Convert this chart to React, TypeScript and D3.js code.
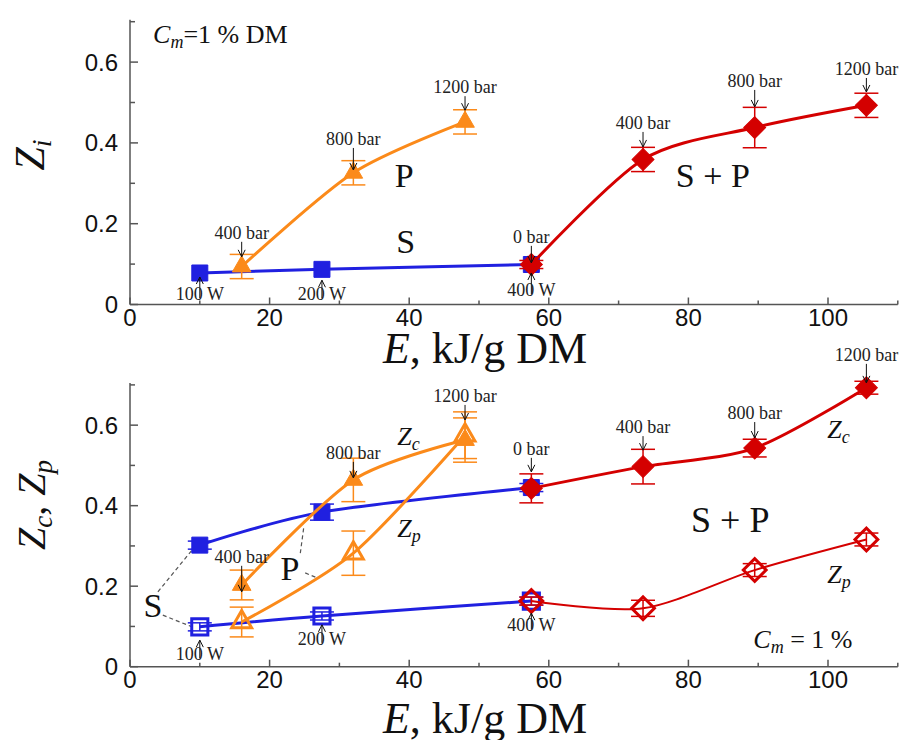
import React from "react";
import * as d3 from "d3";

// ---------- data ----------
const E_S = [10, 27.5, 57.5];
const E_P = [16, 32, 48];
const E_SP = [57.5, 73.5, 89.5, 105.5];

// top panel (Z_i)
const ZiS = [0.078, 0.087, 0.099];
const ZiSErr = [0, 0, 0];
const ZiP = [0.094, 0.326, 0.452];
const ZiPErr = [0.03, 0.03, 0.03];
const ZiSP = [0.099, 0.359, 0.438, 0.493];
const ZiSPErr = [0.01, 0.03, 0.05, 0.03];

// bottom panel (Z_c, Z_p)
const ZcS = [0.302, 0.384, 0.445];
const ZcSErr = [0.01, 0.02, 0.01];
const ZpS = [0.099, 0.126, 0.163];
const ZpSErr = [0.01, 0.01, 0.01];
const ZcP = [0.203, 0.464, 0.563];
const ZcPErr = [0.037, 0.054, 0.055];
const ZpP = [0.111, 0.282, 0.575];
const ZpPErr = [0.037, 0.055, 0.058];
const ZcSP = [0.443, 0.497, 0.543, 0.693];
const ZcSPErr = [0.036, 0.043, 0.022, 0.016];
const ZpSP = [0.163, 0.145, 0.24, 0.316];
const ZpSPErr = [0.01, 0.02, 0.016, 0.016];

// ticks
const xTickLabels = [0, 20, 40, 60, 80, 100];
const xMinorTicks = [10, 30, 50, 70, 90, 110];
const yTickLabels = [0, 0.2, 0.4, 0.6];
const yMinorTicks = [0.1, 0.3, 0.5, 0.7];

// arrow annotations: text, x, value at arrow tip, direction, arrow length
const topArrows = [
  { t: "100 W", x: 10, at: 0.068, dir: "up", len: 21 },
  { t: "200 W", x: 27.5, at: 0.06, dir: "up", len: 18 },
  { t: "400 W", x: 57.5, at: 0.078, dir: "up", len: 21 },
  { t: "400 bar", x: 16, at: 0.118, dir: "down", len: 15 },
  { t: "800 bar", x: 32, at: 0.333, dir: "down", len: 22 },
  { t: "1200 bar", x: 48, at: 0.481, dir: "down", len: 14 },
  { t: "0 bar", x: 57.5, at: 0.103, dir: "down", len: 17 },
  { t: "400 bar", x: 73.5, at: 0.39, dir: "down", len: 15 },
  { t: "800 bar", x: 89.5, at: 0.489, dir: "down", len: 17 },
  { t: "1200 bar", x: 105.5, at: 0.526, dir: "down", len: 14 },
];
const botArrows = [
  { t: "100 W", x: 10, at: 0.066, dir: "up", len: 18 },
  { t: "200 W", x: 27.5, at: 0.104, dir: "up", len: 18 },
  { t: "400 W", x: 57.5, at: 0.133, dir: "up", len: 16 },
  { t: "400 bar", x: 16, at: 0.186, dir: "down", len: 26 },
  { t: "800 bar", x: 32, at: 0.469, dir: "down", len: 16 },
  { t: "1200 bar", x: 48, at: 0.613, dir: "down", len: 15 },
  { t: "0 bar", x: 57.5, at: 0.484, dir: "down", len: 14 },
  { t: "400 bar", x: 73.5, at: 0.538, dir: "down", len: 14 },
  { t: "800 bar", x: 89.5, at: 0.568, dir: "down", len: 16 },
  { t: "1200 bar", x: 105.5, at: 0.705, dir: "down", len: 19 },
];

// dashed pointer lines in the bottom panel (data coords)
const dashLines = [
  [[4.0, 0.186], [8.9, 0.29]],
  [[4.7, 0.128], [8.9, 0.099]],
  [[24.4, 0.282], [24.9, 0.347]],
  [[25.1, 0.233], [26.9, 0.22]],
];

const BLUE = "#2020e0";
const ORANGE = "#fb8a1a";
const RED = "#d40000";
const SERIF = "'Liberation Serif', 'Times New Roman', serif";
const SANS = "'Liberation Sans', Arial, sans-serif";

const xS = d3.scaleLinear().domain([0, 110]).range([130, 897.8]);
const yTop = d3.scaleLinear().domain([0, 0.7]).range([304.5, 21.7]);
const yBot = d3.scaleLinear().domain([0, 0.7]).range([666.7, 384.9]);

const line = (y: any) =>
  d3
    .line<[number, number]>()
    .x((d) => xS(d[0]))
    .y((d) => y(d[1]))
    .curve(d3.curveCardinal.tension(0.15));

const sym = (type: any, size: number) => d3.symbol().type(type).size(size)() as string;

function Axes({ y }: { y: any }) {
  const y0 = y(0);
  return (
    <g>
      <line x1={xS(0)} x2={xS(110)} y1={y0} y2={y0} stroke="#555" strokeWidth={1.5} />
      <line x1={xS(0)} x2={xS(0)} y1={y0} y2={y(0.7) - 2} stroke="#555" strokeWidth={1.5} />
      {xTickLabels.map((v) => (
        <g key={"xt" + v}>
          <line x1={xS(v)} x2={xS(v)} y1={y0} y2={y0 - 7} stroke="#555" strokeWidth={1.5} />
          <text x={xS(v)} y={y0 + 21} textAnchor="middle" fontFamily={SANS} fontSize={24} fill="#111">
            {v}
          </text>
        </g>
      ))}
      {xMinorTicks.map((v) => (
        <line key={"xm" + v} x1={xS(v)} x2={xS(v)} y1={y0} y2={y0 - 4} stroke="#555" strokeWidth={1.5} />
      ))}
      {yTickLabels.map((v) => (
        <g key={"yt" + v}>
          <line x1={xS(0)} x2={xS(0) + 8} y1={y(v)} y2={y(v)} stroke="#555" strokeWidth={1.5} />
          <text x={118} y={y(v) + 8.5} textAnchor="end" fontFamily={SANS} fontSize={24} fill="#111">
            {v === 0 ? "0" : v.toFixed(1)}
          </text>
        </g>
      ))}
      {yMinorTicks.map((v) => (
        <line key={"ym" + v} x1={xS(0)} x2={xS(0) + 5} y1={y(v)} y2={y(v)} stroke="#555" strokeWidth={1.5} />
      ))}
    </g>
  );
}

function ErrBars({ xs, vs, es, y, color }: any) {
  return (
    <g stroke={color} strokeWidth={1.5}>
      {xs.map((x: number, i: number) =>
        es[i] > 0 ? (
          <g key={i}>
            <line x1={xS(x)} x2={xS(x)} y1={y(vs[i] - es[i])} y2={y(vs[i] + es[i])} />
            <line x1={xS(x) - 12} x2={xS(x) + 12} y1={y(vs[i] - es[i])} y2={y(vs[i] - es[i])} />
            <line x1={xS(x) - 12} x2={xS(x) + 12} y1={y(vs[i] + es[i])} y2={y(vs[i] + es[i])} />
          </g>
        ) : null
      )}
    </g>
  );
}

function Markers({ xs, vs, y, shape, color, open, size, rot }: any) {
  const d = sym(shape, size);
  return (
    <g>
      {xs.map((x: number, i: number) => (
        <path
          key={i}
          d={d}
          transform={`translate(${xS(x)},${y(vs[i])}) rotate(${rot || 0})`}
          fill={open ? "none" : color}
          stroke={color}
          strokeWidth={open ? 3 : 1}
        />
      ))}
    </g>
  );
}

function Series({ xs, vs, es, y, color, width, shape, size, open, rot }: any) {
  const pts = xs.map((x: number, i: number) => [x, vs[i]]) as [number, number][];
  return (
    <g>
      <path d={line(y)(pts) as string} fill="none" stroke={color} strokeWidth={width} />
      <ErrBars xs={xs} vs={vs} es={es} y={y} color={color} />
      <Markers xs={xs} vs={vs} y={y} shape={shape} color={color} open={open} size={size} rot={rot} />
    </g>
  );
}

function Arrows({ items, y }: any) {
  return (
    <g>
      {items.map((a: any, i: number) => {
        const x = xS(a.x);
        const tip = y(a.at);
        if (a.dir === "down") {
          const start = tip - a.len;
          return (
            <g key={i}>
              <line x1={x} x2={x} y1={start} y2={tip} stroke="#111" strokeWidth={1} />
              <path d={`M${x - 3.5},${tip - 7} L${x},${tip} L${x + 3.5},${tip - 7}`} fill="none" stroke="#111" strokeWidth={1} />
              <text x={x} y={start - 3} textAnchor="middle" fontFamily={SERIF} fontSize={18} fill="#222">
                {a.t}
              </text>
            </g>
          );
        }
        const end = tip + a.len;
        return (
          <g key={i}>
            <line x1={x} x2={x} y1={tip} y2={end} stroke="#111" strokeWidth={1} />
            <path d={`M${x - 3.5},${tip + 7} L${x},${tip} L${x + 3.5},${tip + 7}`} fill="none" stroke="#111" strokeWidth={1} />
            <text x={x} y={end + 2} textAnchor="middle" fontFamily={SERIF} fontSize={18} fill="#222">
              {a.t}
            </text>
          </g>
        );
      })}
    </g>
  );
}

function XTitle({ y }: { y: number }) {
  return (
    <text x={485} y={y} textAnchor="middle" fontFamily={SERIF} fontSize={44} fill="#111">
      <tspan fontStyle="italic">E</tspan>, kJ/g DM
    </text>
  );
}

export default function App() {
  return (
    <svg
      width={909}
      height={740}
      style={{ position: "absolute", left: 0, top: 0, background: "#fff" }}
    >
      <rect width={909} height={740} fill="#fff" />

      {/* ---------- TOP PANEL ---------- */}
      <Axes y={yTop} />
      <Series xs={E_S} vs={ZiS} es={ZiSErr} y={yTop} color={BLUE} width={3} shape={d3.symbolSquare} size={256} />
      <Series xs={E_P} vs={ZiP} es={ZiPErr} y={yTop} color={ORANGE} width={3} shape={d3.symbolTriangle} size={150} />
      <Series xs={E_SP} vs={ZiSP} es={ZiSPErr} y={yTop} color={RED} width={3} shape={d3.symbolSquare} size={240} rot={45} />
      <Arrows items={topArrows} y={yTop} />
      <text x={xS(3.3)} y={yTop(0.647)} fontFamily={SERIF} fontSize={26} fill="#111">
        <tspan fontStyle="italic">C</tspan>
        <tspan fontStyle="italic" fontSize={18} dy={5}>m</tspan>
        <tspan dy={-5}>=1 % DM</tspan>
      </text>
      <text x={xS(39.3)} y={yTop(0.291)} textAnchor="middle" fontFamily={SERIF} fontSize={34} fill="#111">P</text>
      <text x={xS(39.5)} y={yTop(0.127)} textAnchor="middle" fontFamily={SERIF} fontSize={34} fill="#111">S</text>
      <text x={xS(83.5)} y={yTop(0.291)} textAnchor="middle" fontFamily={SERIF} fontSize={34} fill="#111">S + P</text>
      <XTitle y={363} />
      <text transform="translate(44,155) rotate(-90)" textAnchor="middle" fontFamily={SERIF} fontSize={42} fill="#111">
        <tspan fontStyle="italic">Z</tspan>
        <tspan fontStyle="italic" fontSize={28} dy={7}>i</tspan>
      </text>

      {/* ---------- BOTTOM PANEL ---------- */}
      <Axes y={yBot} />
      <g stroke="#555" strokeWidth={1.2} strokeDasharray="4,3">
        {dashLines.map((l, i) => (
          <line key={i} x1={xS(l[0][0])} y1={yBot(l[0][1])} x2={xS(l[1][0])} y2={yBot(l[1][1])} />
        ))}
      </g>
      <Series xs={E_S} vs={ZcS} es={ZcSErr} y={yBot} color={BLUE} width={3} shape={d3.symbolSquare} size={256} />
      <Series xs={E_S} vs={ZpS} es={ZpSErr} y={yBot} color={BLUE} width={3} shape={d3.symbolSquare} size={260} open />
      <Series xs={E_P} vs={ZcP} es={ZcPErr} y={yBot} color={ORANGE} width={3} shape={d3.symbolTriangle} size={150} />
      <Series xs={E_P} vs={ZpP} es={ZpPErr} y={yBot} color={ORANGE} width={3} shape={d3.symbolTriangle} size={170} open />
      <Series xs={E_SP} vs={ZcSP} es={ZcSPErr} y={yBot} color={RED} width={3} shape={d3.symbolSquare} size={240} rot={45} />
      <Series xs={E_SP} vs={ZpSP} es={ZpSPErr} y={yBot} color={RED} width={2} shape={d3.symbolSquare} size={260} rot={45} open />
      <Arrows items={botArrows} y={yBot} />

      <text x={xS(3.3)} y={yBot(0.123)} textAnchor="middle" fontFamily={SERIF} fontSize={34} fill="#111">S</text>
      <text x={xS(22.9)} y={yBot(0.215)} textAnchor="middle" fontFamily={SERIF} fontSize={34} fill="#111">P</text>
      <text x={xS(38.3)} y={yBot(0.551)} fontFamily={SERIF} fontSize={26} fill="#111">
        <tspan fontStyle="italic">Z</tspan>
        <tspan fontStyle="italic" fontSize={18} dy={5}>c</tspan>
      </text>
      <text x={xS(38.3)} y={yBot(0.322)} fontFamily={SERIF} fontSize={26} fill="#111">
        <tspan fontStyle="italic">Z</tspan>
        <tspan fontStyle="italic" fontSize={18} dy={5}>p</tspan>
      </text>
      <text x={xS(99.9)} y={yBot(0.568)} fontFamily={SERIF} fontSize={26} fill="#111">
        <tspan fontStyle="italic">Z</tspan>
        <tspan fontStyle="italic" fontSize={18} dy={5}>c</tspan>
      </text>
      <text x={xS(99.9)} y={yBot(0.208)} fontFamily={SERIF} fontSize={26} fill="#111">
        <tspan fontStyle="italic">Z</tspan>
        <tspan fontStyle="italic" fontSize={18} dy={5}>p</tspan>
      </text>
      <text x={xS(86)} y={yBot(0.335)} textAnchor="middle" fontFamily={SERIF} fontSize={36} fill="#111">S + P</text>
      <text x={xS(89.3)} y={yBot(0.046)} fontFamily={SERIF} fontSize={26} fill="#111">
        <tspan fontStyle="italic">C</tspan>
        <tspan fontStyle="italic" fontSize={18} dy={5}>m</tspan>
        <tspan dy={-5}> = 1 %</tspan>
      </text>
      <XTitle y={733} />
      <text transform="translate(45,505) rotate(-90)" textAnchor="middle" fontFamily={SERIF} fontSize={40} fill="#111">
        <tspan fontStyle="italic">Z</tspan>
        <tspan fontStyle="italic" fontSize={27} dy={7}>c</tspan>
        <tspan dy={-7}>, </tspan>
        <tspan fontStyle="italic">Z</tspan>
        <tspan fontStyle="italic" fontSize={27} dy={7}>p</tspan>
      </text>
    </svg>
  );
}
